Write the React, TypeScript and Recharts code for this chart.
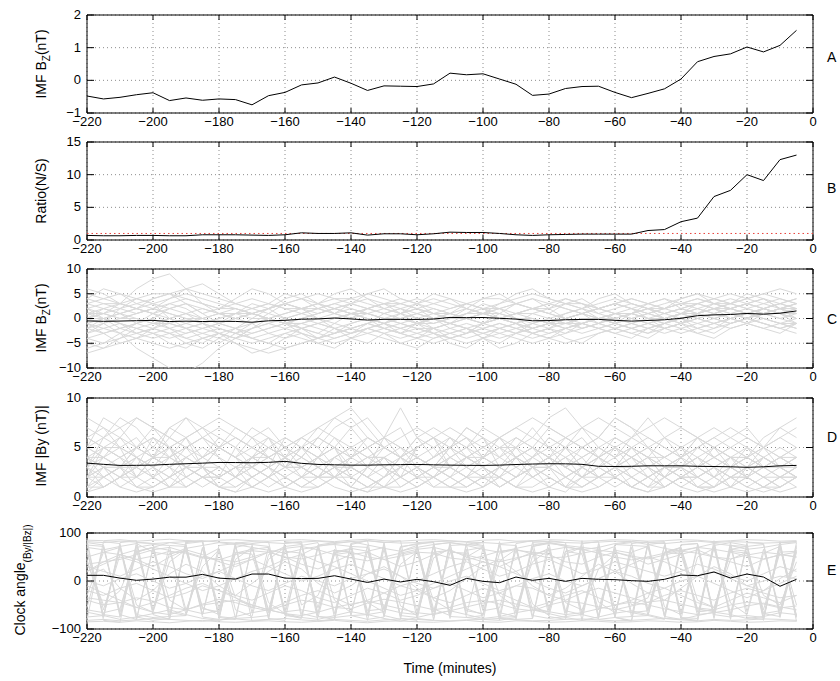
import React from 'react';
import {
  LineChart, Line, XAxis, YAxis, CartesianGrid, ReferenceArea, ReferenceLine,
} from 'recharts';

// time before onset, 5-minute steps
const minutes = [
  -220, -215, -210, -205, -200, -195, -190, -185, -180, -175, -170,
  -165, -160, -155, -150, -145, -140, -135, -130, -125, -120, -115,
  -110, -105, -100, -95, -90, -85, -80, -75, -70, -65, -60,
  -55, -50, -45, -40, -35, -30, -25, -20, -15, -10, -5,
];
const xTicks = [-220, -200, -180, -160, -140, -120, -100, -80, -60, -40, -20, 0];

// superposed-epoch mean IMF Bz (nT)
const bzMean = [
  -0.48, -0.57, -0.52, -0.44, -0.38, -0.62, -0.54, -0.61, -0.57, -0.59, -0.75,
  -0.47, -0.37, -0.14, -0.08, 0.10, -0.09, -0.31, -0.17, -0.18, -0.19, -0.11,
  0.22, 0.17, 0.20, 0.04, -0.12, -0.46, -0.42, -0.25, -0.19, -0.18, -0.37,
  -0.53, -0.40, -0.26, 0.04, 0.57, 0.73, 0.81, 1.02, 0.87, 1.07, 1.53,
];

// northward / southward event ratio
const ratioNS = [
  0.7, 0.65, 0.65, 0.7, 0.7, 0.65, 0.65, 0.8, 0.8, 0.8, 0.75,
  0.7, 0.8, 1.1, 1.0, 1.0, 1.1, 0.75, 0.95, 0.95, 0.8, 0.95,
  1.2, 1.15, 1.15, 1.0, 0.8, 0.7, 0.8, 0.85, 0.9, 0.9, 0.9,
  0.9, 1.45, 1.6, 2.8, 3.35, 6.65, 7.6, 10.0, 9.1, 12.3, 13.0,
];

// mean |By| (nT)
const byMean = [
  3.42, 3.3, 3.19, 3.2, 3.22, 3.3, 3.36, 3.42, 3.49, 3.48, 3.46,
  3.5, 3.6, 3.4, 3.29, 3.25, 3.22, 3.22, 3.25, 3.27, 3.29, 3.25,
  3.22, 3.2, 3.19, 3.22, 3.28, 3.33, 3.36, 3.35, 3.3, 3.1, 3.08,
  3.1, 3.15, 3.15, 3.15, 3.1, 3.08, 3.05, 3.0, 3.05, 3.15, 3.19,
];

// mean clock angle (deg)
const clockMean = [
  11.8, 11.8, 6, 1.4, 4, 8, 8, 13.8, 6, 4, 14.5,
  14.5, 6, 5, 5.5, 11, 4, -3, 4, -2, 3.5, -1.4,
  -9, 5.5, -0.7, -3.5, 8.3, 1.4, 5.5, -0.7, 5.5, 3.5, 2.8,
  0.7, -0.7, 3.5, 12.5, 11, 18.7, 6.2, 14.5, 8.3, -11, 3.5,
];

// individual events, IMF Bz (nT)
const bzEvents = [
  [2, 3, 2, 1, 2, 3, 4, 3, 2, 2, 1, 0, 1, 2, 3, 2, 1, 2, 3, 3, 2, 1, 2, 3, 2, 2, 3, 4, 3, 2, 1, 2, 3, 2, 1, 2, 3, 4, 3, 3, 4, 3, 2, 3],
  [-2, -3, -2, -1, -2, -3, -4, -3, -2, -3, -4, -3, -2, -1, -2, -3, -2, -1, -2, -3, -2, -2, -1, -2, -3, -4, -3, -2, -1, -2, -3, -2, -1, -2, -3, -2, -1, 0, -1, -2, -1, 0, -1, -2],
  [0, 1, 3, 6, 8, 9, 6, 3, 1, 0, -1, 0, 1, 2, 2, 1, 0, 1, 2, 1, 0, -1, 0, 1, 1, 0, -1, -2, -1, 0, 1, 0, 0, 1, 2, 1, 0, 1, 2, 3, 2, 1, 2, 1],
  [4, 3, 3, 4, 5, 5, 4, 3, 2, 3, 4, 3, 2, 2, 3, 4, 4, 3, 2, 3, 4, 3, 2, 3, 4, 4, 3, 2, 2, 3, 3, 2, 1, 1, 2, 2, 3, 3, 4, 3, 2, 3, 4, 3],
  [-5, -6, -5, -4, -5, -6, -5, -4, -3, -4, -5, -4, -3, -4, -5, -4, -3, -2, -3, -4, -3, -2, -3, -4, -3, -2, -3, -4, -3, -2, -1, -2, -3, -2, -1, -2, -3, -2, -1, 0, -1, -2, -1, -2],
  [1, 0, -1, -2, -1, 0, 1, 2, 1, 0, 1, 2, 3, 4, 3, 2, 1, 0, -1, 0, 1, 2, 1, 0, -1, 0, 1, 2, 1, 0, -1, -2, -1, 0, 1, 2, 1, 0, 1, 2, 3, 2, 1, 2],
  [-1, 0, 1, 0, -1, -2, -3, -2, -1, 0, 1, 0, -1, 0, 1, 2, 3, 2, 1, 0, -1, -2, -1, 0, 1, 2, 1, 0, -1, 0, 1, 2, 1, 0, -1, 0, 1, 2, 1, 2, 3, 2, 3, 2],
  [3, 2, 1, 2, 3, 4, 5, 4, 3, 2, 1, 2, 3, 4, 5, 4, 3, 2, 1, 2, 3, 4, 3, 2, 1, 0, 1, 2, 3, 4, 3, 2, 3, 4, 3, 2, 3, 4, 3, 2, 1, 2, 3, 4],
  [-3, -2, -1, -2, -3, -4, -3, -2, -1, -2, -3, -2, -1, 0, -1, -2, -3, -2, -1, -2, -3, -4, -3, -2, -1, 0, -1, -2, -3, -2, -1, 0, -1, -2, -1, 0, 1, 0, -1, 0, 1, 0, -1, 0],
  [0, -1, -3, -6, -8, -10, -11, -9, -6, -4, -2, -1, 0, 1, 0, -1, -2, -1, 0, -1, -2, -3, -4, -5, -4, -3, -2, -1, 0, -1, -2, -1, 0, 1, 0, -1, 0, 1, 2, 1, 0, 1, 0, -1],
  [2, 1, 0, 1, 2, 1, 0, -1, 0, 1, 2, 3, 2, 1, 2, 3, 4, 5, 4, 3, 2, 1, 0, 1, 2, 3, 4, 5, 4, 3, 2, 1, 2, 3, 2, 1, 2, 3, 4, 5, 4, 5, 6, 5],
  [-4, -3, -2, -3, -4, -3, -2, -1, -2, -3, -2, -1, -2, -3, -4, -5, -4, -3, -2, -1, -2, -3, -4, -3, -2, -1, -2, -3, -4, -5, -4, -3, -2, -1, -2, -1, 0, 1, 0, -1, 0, 1, 0, 1],
  [1, 2, 3, 2, 1, 0, -1, -2, -3, -4, -3, -2, -1, 0, 1, 2, 1, 0, -1, -2, -1, 0, 1, 2, 1, 0, 1, 2, 3, 2, 1, 0, -1, 0, 1, 0, -1, -2, -1, 0, 1, 2, 1, 0],
  [5, 4, 3, 2, 1, 2, 3, 2, 1, 0, 1, 0, -1, -2, -1, 0, 1, 2, 3, 4, 3, 2, 1, 0, -1, -2, -3, -2, -1, 0, 1, 2, 3, 2, 3, 4, 3, 2, 1, 2, 3, 4, 3, 2],
  [-2, -1, 0, 1, 2, 1, 0, -1, -2, -3, -4, -5, -6, -5, -4, -3, -2, -1, -2, -3, -4, -5, -4, -3, -2, -1, -2, -3, -2, -1, 0, -1, -2, -3, -2, -1, -2, -3, -2, -1, 0, -1, -2, -3],
  [0, 1, 2, 3, 4, 5, 6, 5, 4, 3, 2, 1, 0, 1, 2, 3, 2, 1, 0, 1, 2, 3, 4, 3, 2, 1, 0, -1, 0, 1, 2, 3, 4, 3, 2, 1, 2, 3, 2, 1, 0, 1, 2, 1],
  [-6, -5, -4, -3, -2, -1, -2, -3, -4, -5, -6, -7, -6, -5, -4, -3, -2, -3, -4, -5, -4, -3, -2, -1, -2, -3, -4, -5, -4, -3, -2, -1, 0, -1, -2, -3, -2, -1, 0, 1, 0, -1, -2, -1],
  [1, 1, 0, 0, -1, -1, 0, 0, 1, 1, 0, 0, -1, -1, 0, 0, 1, 1, 0, 0, -1, -1, 0, 0, 1, 1, 0, 0, -1, -1, 0, 0, 1, 1, 0, 0, 1, 1, 2, 2, 1, 1, 2, 2],
  [3, 4, 5, 4, 3, 2, 1, 0, -1, 0, 1, 2, 3, 2, 1, 2, 3, 4, 3, 2, 1, 0, -1, 0, 1, 2, 3, 2, 1, 0, 1, 2, 3, 2, 1, 0, 1, 2, 3, 4, 3, 2, 3, 4],
  [-1, -2, -3, -4, -3, -2, -1, 0, 1, 2, 1, 0, -1, -2, -3, -4, -3, -2, -1, 0, 1, 0, -1, -2, -3, -2, -1, 0, -1, -2, -1, 0, 1, 0, -1, -2, -1, 0, 1, 0, 1, 2, 1, 0],
  [-3, -1, 2, 4, 3, 0, -2, -4, -5, -3, -1, 1, 3, 2, 0, -2, -3, -1, 1, 2, 0, -2, -4, -3, -1, 1, 3, 4, 2, 0, -2, -1, 1, 2, 0, -1, 1, 3, 2, 0, -1, 1, 2, 0],
  [6, 5, 3, 2, 4, 5, 3, 1, 2, 4, 6, 5, 3, 2, 3, 5, 6, 4, 2, 1, 3, 5, 4, 2, 1, 3, 5, 6, 4, 3, 2, 4, 5, 3, 2, 3, 4, 5, 4, 3, 4, 5, 4, 3],
  [-7, -6, -4, -2, -3, -5, -6, -4, -3, -5, -7, -6, -4, -3, -5, -6, -4, -2, -3, -5, -6, -4, -3, -2, -4, -6, -5, -3, -2, -4, -5, -3, -2, -3, -4, -2, -1, -3, -4, -2, -1, -2, -3, -1],
  [0, 2, 1, -1, 0, 2, 3, 1, -1, -2, 0, 2, 4, 5, 3, 1, 0, 2, 3, 1, -1, 0, 1, 3, 2, 0, -1, 1, 2, 4, 3, 1, 0, 1, 3, 4, 2, 1, 2, 3, 5, 4, 2, 3],
  [-2, 0, -1, -3, -2, 0, 1, -1, -3, -4, -2, 0, -1, -3, -4, -2, -1, 0, -2, -3, -1, 0, -2, -3, -1, 0, -1, -3, -2, 0, 1, -1, -2, -1, 0, -2, -1, 1, 0, -1, 0, 2, 1, -1],
  [4, 6, 5, 3, 2, 4, 6, 7, 5, 3, 2, 3, 5, 4, 2, 1, 3, 5, 6, 4, 3, 1, 0, 2, 4, 5, 3, 2, 1, 3, 4, 2, 3, 4, 3, 2, 4, 5, 3, 2, 3, 4, 2, 3],
  [-1, -3, -5, -4, -2, -3, -5, -6, -4, -2, -1, -3, -4, -2, -1, -2, -4, -5, -3, -2, -1, -3, -5, -6, -4, -2, -1, -3, -4, -2, -1, -2, -3, -4, -2, -1, 0, -2, -3, -1, 0, -1, -2, -1],
  [2, 0, -2, -1, 1, 3, 2, 0, -1, 1, 3, 2, 0, -2, -3, -1, 1, 0, -1, 1, 2, 0, -1, 1, 3, 2, 0, -2, -1, 1, 2, 0, -1, 1, 2, 0, -1, 1, 3, 2, 1, 2, 1, 2],
  [0, 0, 1, 2, 1, -1, -2, -1, 0, 1, 1, 0, -1, -1, 0, 1, 2, 1, 0, -1, 0, 1, 1, 0, -1, 0, 1, 1, 0, -1, -1, 0, 1, 1, 0, 1, 2, 1, 0, 1, 2, 1, 1, 1],
  [-4, -5, -3, -1, 0, -2, -4, -5, -3, -2, -4, -5, -3, -2, -4, -3, -1, 0, -1, -3, -4, -2, -1, -2, -4, -5, -3, -1, -2, -3, -1, 0, -1, -2, -3, -1, 0, -1, -2, 0, 1, 0, -1, -1],
];

// individual events, |By| (nT)
const byEvents = [
  [6, 5, 4, 5, 7, 6, 5, 4, 5, 6, 5, 4, 3, 5, 6, 5, 4, 5, 6, 4, 5, 6, 5, 4, 3, 4, 6, 5, 4, 3, 5, 6, 5, 4, 3, 4, 5, 4, 3, 4, 5, 4, 3, 4],
  [2, 3, 1, 2, 4, 3, 2, 1, 2, 3, 2, 1, 2, 3, 2, 1, 0.5, 1, 2, 3, 2, 1, 2, 3, 2, 1, 2, 3, 4, 3, 2, 1, 2, 1, 2, 3, 2, 1, 2, 1, 0.5, 1, 2, 1],
  [8, 7, 5, 4, 3, 4, 6, 7, 8, 7, 6, 5, 4, 3, 4, 5, 7, 8, 6, 5, 4, 3, 4, 5, 6, 5, 4, 3, 4, 5, 7, 8, 7, 6, 5, 4, 5, 6, 7, 6, 5, 4, 3, 4],
  [3, 4, 5, 4, 3, 2, 3, 4, 5, 4, 3, 2, 3, 4, 3, 2, 3, 4, 5, 4, 3, 2, 3, 4, 3, 2, 3, 4, 5, 4, 3, 2, 3, 4, 3, 2, 3, 4, 3, 2, 3, 4, 3, 2],
  [1, 2, 1, 0.5, 1, 2, 3, 2, 1, 2, 1, 0.5, 1, 2, 1, 2, 3, 2, 1, 0.5, 1, 2, 1, 2, 3, 2, 1, 0.5, 1, 2, 1, 2, 3, 2, 1, 2, 1, 0.5, 1, 2, 3, 2, 1, 2],
  [5, 6, 7, 8, 7, 6, 5, 6, 7, 6, 5, 4, 5, 6, 7, 8, 9, 7, 5, 4, 5, 6, 7, 6, 5, 6, 7, 8, 7, 6, 5, 4, 5, 6, 7, 8, 7, 6, 5, 6, 7, 5, 4, 5],
  [4, 3, 2, 3, 4, 5, 4, 3, 2, 1, 2, 3, 4, 5, 4, 3, 2, 1, 2, 3, 4, 3, 2, 1, 2, 3, 4, 5, 4, 3, 2, 3, 4, 5, 4, 3, 2, 3, 4, 3, 2, 3, 4, 3],
  [2, 1, 2, 3, 2, 3, 4, 3, 2, 3, 4, 5, 4, 3, 2, 3, 2, 1, 2, 3, 4, 3, 4, 3, 2, 3, 4, 3, 2, 1, 2, 3, 2, 3, 2, 1, 2, 3, 2, 3, 4, 3, 2, 3],
  [7, 6, 8, 7, 5, 4, 5, 6, 5, 4, 3, 4, 5, 4, 3, 4, 5, 6, 5, 6, 7, 6, 5, 4, 5, 6, 7, 6, 5, 6, 7, 6, 8, 7, 6, 5, 4, 5, 6, 7, 6, 5, 6, 7],
  [3, 2, 3, 4, 3, 2, 1, 2, 3, 2, 3, 4, 3, 2, 3, 4, 5, 4, 3, 4, 3, 2, 3, 4, 5, 4, 3, 2, 3, 2, 3, 4, 5, 4, 3, 2, 1, 2, 3, 2, 1, 2, 3, 2],
  [5, 4, 3, 3, 4, 4, 3, 2, 2, 3, 4, 4, 3, 3, 2, 2, 3, 4, 4, 3, 2, 2, 3, 4, 4, 3, 2, 3, 3, 4, 5, 4, 3, 3, 4, 3, 3, 2, 3, 4, 4, 3, 3, 2],
  [1, 1, 2, 3, 2, 1, 1, 2, 1, 1, 2, 3, 2, 1, 1, 2, 2, 1, 1, 2, 3, 2, 1, 1, 2, 2, 1, 1, 2, 1, 1, 2, 3, 2, 1, 1, 2, 1, 1, 2, 2, 1, 1, 2],
  [4, 5, 6, 5, 4, 5, 6, 7, 6, 5, 4, 5, 6, 5, 4, 3, 4, 5, 6, 5, 4, 5, 6, 5, 4, 5, 6, 5, 4, 3, 4, 5, 4, 5, 6, 5, 4, 5, 4, 3, 4, 5, 6, 5],
  [2, 4, 3, 1, 2, 4, 5, 3, 2, 3, 1, 2, 3, 5, 4, 2, 1, 3, 4, 2, 1, 2, 4, 5, 3, 2, 1, 3, 4, 2, 3, 5, 4, 2, 1, 3, 4, 2, 3, 1, 2, 4, 3, 2],
  [6, 5, 5, 6, 4, 3, 4, 5, 4, 3, 4, 3, 4, 6, 5, 3, 4, 5, 3, 2, 3, 4, 5, 3, 4, 6, 5, 4, 3, 5, 6, 4, 3, 4, 5, 3, 4, 6, 5, 4, 3, 4, 5, 4],
  [0.5, 1, 2, 1, 0.5, 1, 3, 2, 1, 0.5, 1, 2, 1, 0.5, 1, 2, 1, 0.5, 1, 2, 3, 2, 1, 0.5, 1, 2, 1, 2, 3, 1, 0.5, 1, 2, 1, 0.5, 1, 2, 1, 0.5, 1, 2, 1, 0.5, 1],
  [3, 5, 4, 2, 3, 5, 6, 4, 3, 2, 4, 6, 5, 3, 2, 4, 5, 3, 2, 4, 6, 5, 3, 2, 4, 5, 3, 4, 6, 5, 3, 2, 3, 5, 4, 2, 3, 5, 4, 3, 2, 4, 3, 3],
  [5, 8, 7, 5, 4, 6, 8, 7, 5, 4, 6, 7, 5, 4, 6, 8, 7, 5, 6, 9, 6, 4, 5, 7, 6, 4, 5, 6, 8, 9, 7, 5, 4, 6, 8, 6, 4, 5, 6, 5, 4, 6, 7, 8],
  [2, 2, 3, 4, 2, 1, 2, 3, 3, 2, 1, 2, 4, 3, 2, 2, 3, 2, 1, 3, 4, 3, 2, 1, 2, 3, 2, 3, 4, 3, 2, 2, 3, 1, 2, 3, 3, 2, 1, 2, 3, 2, 2, 3],
  [4, 3, 4, 5, 6, 5, 3, 4, 5, 4, 5, 6, 4, 3, 4, 5, 4, 6, 5, 4, 3, 4, 5, 6, 4, 3, 4, 5, 4, 3, 4, 5, 6, 5, 4, 4, 5, 3, 4, 5, 4, 3, 4, 4],
  [3, 6, 5, 2, 4, 7, 6, 3, 2, 5, 7, 6, 3, 4, 6, 5, 2, 3, 6, 7, 4, 3, 5, 7, 6, 3, 2, 4, 6, 5, 3, 4, 6, 5, 3, 2, 4, 6, 5, 3, 4, 5, 3, 4],
  [1, 3, 2, 2, 4, 3, 1, 2, 3, 2, 4, 3, 2, 1, 2, 4, 3, 2, 3, 1, 2, 3, 2, 4, 3, 1, 2, 3, 2, 1, 3, 4, 2, 1, 2, 3, 2, 2, 1, 3, 2, 1, 2, 2],
  [5, 4, 6, 8, 7, 5, 3, 4, 6, 5, 3, 2, 4, 5, 7, 6, 4, 3, 5, 4, 2, 3, 5, 6, 4, 3, 5, 7, 5, 3, 2, 4, 5, 3, 4, 6, 5, 3, 2, 4, 3, 5, 4, 3],
  [0.5, 2, 3, 1, 1, 2, 4, 3, 1, 0.5, 2, 3, 2, 1, 2, 3, 1, 0.5, 2, 4, 3, 1, 1, 2, 1, 3, 4, 2, 1, 0.5, 2, 3, 2, 1, 0.5, 2, 3, 1, 1, 2, 1, 0.5, 1, 2],
  [4, 4, 3, 5, 6, 4, 3, 3, 5, 6, 5, 4, 3, 3, 4, 6, 5, 4, 4, 3, 5, 6, 4, 3, 4, 5, 5, 3, 4, 6, 5, 4, 3, 4, 5, 4, 3, 4, 5, 4, 4, 3, 4, 5],
  [2, 5, 4, 3, 6, 5, 2, 3, 5, 4, 2, 3, 6, 5, 3, 2, 4, 5, 3, 2, 5, 6, 3, 2, 4, 6, 4, 2, 3, 5, 4, 2, 3, 5, 4, 2, 3, 4, 2, 3, 5, 3, 2, 3],
  [6, 7, 6, 4, 5, 7, 8, 6, 5, 7, 6, 4, 5, 6, 5, 7, 8, 6, 5, 4, 6, 7, 6, 5, 7, 6, 4, 5, 7, 6, 5, 6, 8, 7, 5, 6, 7, 6, 4, 5, 6, 5, 7, 6],
  [3, 1, 2, 4, 3, 1, 2, 3, 1, 2, 4, 3, 1, 2, 3, 2, 1, 3, 4, 2, 1, 2, 3, 2, 1, 2, 4, 3, 1, 2, 3, 2, 1, 2, 3, 1, 2, 3, 2, 1, 3, 2, 1, 2],
  [4, 2, 3, 5, 4, 3, 5, 6, 4, 2, 3, 5, 4, 2, 4, 5, 3, 2, 4, 5, 3, 4, 6, 4, 3, 2, 4, 5, 3, 4, 2, 3, 5, 4, 2, 3, 4, 3, 5, 4, 2, 3, 4, 3],
  [2, 3, 3, 2, 1, 2, 3, 2, 2, 3, 3, 2, 1, 2, 2, 3, 3, 2, 1, 1, 2, 3, 3, 2, 2, 1, 2, 3, 3, 2, 1, 2, 2, 3, 2, 1, 2, 2, 3, 2, 2, 1, 2, 2],
];

// individual events, clock angle (deg)
const clockEvents = [
  [80, 75, -70, -80, 70, 80, 75, -75, -80, 70, 78, 82, -70, -78, 75, 80, -72, -80, -75, 70, 78, 80, -70, 75, 80, -78, -80, 72, 80, 75, -70, -78, 76, 80, -72, -80, 75, 78, -70, -75, 80, 78, -76, 80],
  [70, 65, 72, 78, 60, 55, 68, 74, 80, 76, 70, 64, 58, 66, 72, 78, 82, 75, 68, 62, 70, 76, 80, 74, 66, 60, 68, 75, 80, 72, 65, 70, 78, 82, 76, 68, 62, 70, 78, 74, 66, 70, 76, 80],
  [-65, -72, -80, -75, -68, -60, -70, -78, -82, -74, -66, -60, -68, -76, -80, -72, -64, -70, -78, -84, -76, -68, -62, -70, -78, -74, -66, -60, -68, -76, -82, -75, -67, -62, -70, -78, -80, -72, -65, -70, -78, -74, -66, -70],
  [20, 35, 50, 40, 25, 10, -5, -20, -10, 5, 20, 30, 45, 55, 40, 30, 15, 0, -15, -30, -20, -5, 10, 25, 40, 30, 15, 0, -15, -25, -10, 5, 20, 35, 50, 40, 25, 10, -5, -20, -35, -20, -5, 10],
  [-80, 82, 78, -75, -82, -78, 80, 84, -76, -80, 74, -78, 80, 82, -74, -80, 76, 84, 80, -78, -82, 76, 80, -76, -80, -82, 78, 84, -74, -80, 78, 82, -76, -82, 76, 80, -78, -84, 74, 80, -76, -80, 80, 82],
  [50, 60, 55, 45, 52, 62, 58, 48, 44, 55, 63, 60, 50, 46, 54, 64, 60, 50, 45, 52, 60, 58, 48, 44, 52, 62, 66, 56, 48, 50, 58, 64, 60, 52, 46, 54, 62, 58, 50, 46, 54, 60, 56, 50],
  [-40, -50, -45, -35, -42, -55, -60, -48, -38, -45, -55, -62, -50, -40, -45, -55, -58, -46, -38, -44, -52, -60, -55, -45, -40, -48, -58, -62, -50, -42, -46, -54, -60, -52, -44, -40, -48, -56, -60, -50, -44, -48, -56, -52],
  [85, -82, -86, 80, 78, -80, 84, 82, -78, 76, -84, -80, 82, 78, -84, -80, 76, -82, 80, 84, -78, -82, 80, 76, -84, 82, -80, -78, 84, 80, -82, 78, -76, -84, 80, 82, -78, -82, 84, -80, 78, -76, 82, -84],
  [30, 20, 10, 25, 40, 30, 15, 5, 20, 35, 45, 30, 15, 0, 10, 25, 35, 20, 5, -10, 0, 15, 30, 40, 25, 10, 20, 35, 45, 30, 15, 25, 40, 30, 20, 10, 20, 35, 25, 10, 0, 15, 30, 20],
  [-20, -30, -15, -5, -20, -35, -25, -10, -20, -30, -40, -25, -10, -20, -35, -45, -30, -15, -25, -40, -30, -15, -5, -20, -35, -25, -10, -15, -30, -40, -25, -15, -25, -35, -45, -30, -20, -30, -40, -25, -15, -25, -35, -30],
  [75, 72, -74, 70, 76, 74, 72, -70, 74, 78, 76, 72, -72, -76, 74, 76, 72, 70, -74, 72, 76, -72, 74, 76, 72, -76, -74, 72, 78, 74, 70, -72, 76, 74, 72, -74, 76, 78, -70, 74, 72, 76, -72, 74],
  [-75, -72, 74, -70, -76, -74, -72, 70, -74, -78, -76, -72, 72, 76, -74, -76, -72, -70, 74, -72, -76, 72, -74, -76, -72, 76, 74, -72, -78, -74, -70, 72, -76, -74, -72, 74, -76, -78, 70, -74, -72, -76, 72, -74],
  [60, -60, 55, 65, -62, 58, 62, -58, -64, 60, 56, -60, 62, 58, -56, 64, 60, -62, -58, 56, 62, -64, 60, 58, -62, -56, 64, 60, -58, 62, 56, -60, 64, 58, -62, 60, 56, -58, -64, 62, 58, -60, 60, 62],
  [0, -10, 5, 15, 0, -15, -5, 10, 20, 5, -10, -20, -5, 10, 0, -10, 5, 15, 25, 10, -5, -15, 0, 10, -5, -20, -10, 5, 15, 0, -10, 5, 20, 10, -5, -15, 0, 10, 20, 5, -10, 0, 10, 5],
  [85, 84, 86, 83, 85, 87, 84, 82, 85, 86, 84, 83, 85, 86, 84, 82, 85, 87, 84, 83, 85, 86, 84, 82, 85, 86, 83, 84, 86, 85, 83, 84, 86, 85, 83, 84, 86, 85, 82, 84, 86, 85, 83, 84],
  [-85, -84, -86, -83, -85, -87, -84, -82, -85, -86, -84, -83, -85, -86, -84, -82, -85, -87, -84, -83, -85, -86, -84, -82, -85, -86, -83, -84, -86, -85, -83, -84, -86, -85, -83, -84, -86, -85, -82, -84, -86, -85, -83, -84],
  [45, -70, -75, 60, 70, -65, -72, 50, 68, -60, -74, 55, 72, -68, -76, 58, 66, -70, -64, 62, 74, -58, -72, 64, 70, -66, -74, 52, 68, -62, -70, 60, 72, -66, -72, 58, 70, -64, -60, 66, 72, -68, -74, 60],
  [-30, 60, 70, -50, -65, 40, 65, -55, -70, 45, 70, -45, -68, 55, 72, -40, -66, 62, 70, -52, -72, 48, 68, -58, -70, 42, 66, -48, -72, 56, 70, -44, -66, 60, 72, -54, -70, 50, 68, -46, -70, 58, 72, -50],
  [35, 40, 45, 55, 65, 70, 60, 50, 45, 40, 50, 60, 68, 72, 65, 55, 48, 42, 50, 58, 66, 70, 62, 54, 46, 40, 48, 56, 64, 70, 66, 58, 50, 44, 50, 58, 64, 70, 66, 60, 52, 46, 54, 60],
  [-35, -40, -45, -55, -65, -70, -60, -50, -45, -40, -50, -60, -68, -72, -65, -55, -48, -42, -50, -58, -66, -70, -62, -54, -46, -40, -48, -56, -64, -70, -66, -58, -50, -44, -50, -58, -64, -70, -66, -60, -52, -46, -54, -60],
  [78, -76, 80, 84, -70, -80, 78, 82, -74, 80, 76, -78, -82, 74, 80, -76, 78, 84, -72, -80, 76, 82, -78, 80, 74, -82, -76, 80, 78, -74, 84, -80, -76, 78, 82, -74, -80, 76, -78, 80, 74, -82, 78, -76],
  [10, 25, -15, -40, -20, 15, 35, 20, -10, -30, -5, 20, 40, 25, -5, -25, -10, 15, 30, 10, -15, -35, -20, 5, 30, 45, 20, -10, -30, -15, 10, 35, 20, -5, -25, -40, -15, 10, 30, 15, -10, -20, 5, 25],
  [-60, -66, -58, 62, 70, 64, -60, -68, -62, 58, 66, 70, -64, -60, -66, 60, 68, 62, -58, -66, -70, 60, 64, -62, -68, 58, 66, -60, -64, 62, 70, 66, -58, -66, -62, 60, 68, -64, -60, 66, 62, -68, -62, 64],
  [40, -50, -20, 60, 70, -40, -60, 30, 65, -35, -55, 45, 70, -50, -30, 55, 60, -45, -65, 35, 60, -40, -60, 50, 70, -30, -55, 40, 65, -45, -60, 25, 55, -50, -35, 60, 70, -40, -55, 45, 60, -30, -50, 40],
  [82, 80, 83, 81, 78, 80, 82, 84, 81, 79, 82, 80, 78, 81, 83, 80, 82, 84, 81, 79, 80, 82, 83, 81, 80, 78, 81, 83, 82, 80, 79, 81, 83, 82, 80, 78, 81, 83, 80, 82, 81, 79, 80, 82],
  [-82, -80, -83, -81, -78, -80, -82, -84, -81, -79, -82, -80, -78, -81, -83, -80, -82, -84, -81, -79, -80, -82, -83, -81, -80, -78, -81, -83, -82, -80, -79, -81, -83, -82, -80, -78, -81, -83, -80, -82, -81, -79, -80, -82],
  [65, -75, 70, -80, 68, -72, 76, -70, 64, -78, 72, -66, 74, -76, 70, -68, 78, -72, 66, -74, 70, -80, 76, -70, 68, -72, 74, -78, 70, -66, 72, -76, 68, -74, 78, -70, 66, -72, 76, -68, 74, -78, 70, -72],
  [-10, -25, -40, -55, -45, -30, -15, -5, -20, -35, -50, -60, -45, -30, -20, -35, -50, -40, -25, -10, -20, -35, -45, -30, -15, -25, -40, -55, -45, -30, -20, -35, -50, -40, -25, -15, -30, -45, -55, -40, -25, -35, -45, -30],
  [20, 40, 55, 45, 30, 50, 65, 55, 40, 30, 45, 60, 50, 35, 25, 40, 55, 60, 45, 30, 40, 55, 65, 50, 40, 30, 45, 60, 55, 40, 35, 50, 60, 50, 35, 45, 55, 65, 50, 40, 30, 45, 55, 50],
  [-55, 70, -65, 75, -60, 72, -70, 68, -58, 74, -66, 70, -62, 76, -68, 66, -72, 74, -60, 70, -64, 72, -70, 66, -58, 74, -66, 70, -62, 76, -68, 64, -72, 70, -60, 74, -66, 68, -70, 72, -64, 66, -62, 70],
];

const buildRows = (mean: number[], events: number[][] = []) =>
  minutes.map((t, i) => {
    const row: Record<string, number> = { t, v: mean[i] };
    events.forEach((ev, k) => { row['g' + k] = ev[i]; });
    return row;
  });

const FONT = '"Liberation Sans", Arial, Helvetica, sans-serif';
const PLOT_LEFT = 87;
const PLOT_RIGHT = 27;
const PLOT_W = 840 - PLOT_LEFT - PLOT_RIGHT;

const fmt = (v: number) => (v < 0 ? '\u2212' + Math.abs(v) : String(v));

// MATLAB-style inward ticks on both sides of the box
const XTick = (props: any) => {
  const { x, y, payload, span } = props;
  return (
    <g>
      <line x1={x} x2={x} y1={y} y2={y - 5} stroke="#000" />
      <line x1={x} x2={x} y1={y - span} y2={y - span + 5} stroke="#000" />
      <text x={x} y={y + 13} textAnchor="middle" fontSize={13} fontFamily={FONT} fill="#000">
        {fmt(payload.value)}
      </text>
    </g>
  );
};

const YTick = (props: any) => {
  const { x, y, payload } = props;
  return (
    <g>
      <line x1={x} x2={x + 7} y1={y} y2={y} stroke="#000" />
      <line x1={x + PLOT_W} x2={x + PLOT_W - 7} y1={y} y2={y} stroke="#000" />
      <text x={x - 6} y={y} dy="0.3em" textAnchor="end" fontSize={13} fontFamily={FONT} fill="#000">
        {fmt(payload.value)}
      </text>
    </g>
  );
};

interface PanelProps {
  rows: Record<string, number>[];
  top: number;
  bottom: number;
  domain: [number, number];
  yTicks: number[];
  traces?: number;
  refLevel?: number;
}

const Panel = ({ rows, top, bottom, domain, yTicks, traces = 0, refLevel }: PanelProps) => {
  const span = bottom - top;
  const keys = Array.from({ length: traces }, (_, k) => 'g' + k);
  return (
    <div style={{ position: 'absolute', left: 0, top: 0 }}>
      <LineChart
        width={840}
        height={681}
        data={rows}
        margin={{ top, right: PLOT_RIGHT, bottom: 681 - bottom - 1, left: PLOT_LEFT - 1 }}
      >
        <CartesianGrid stroke="#8c8c8c" strokeDasharray="1 3" />
        <XAxis
          dataKey="t" type="number" domain={[-220, 0]} ticks={xTicks} interval={0}
          height={1} tickSize={0} tickMargin={0} axisLine={false} tickLine={false}
          tick={(p: any) => <XTick {...p} span={span} />}
        />
        <YAxis
          type="number" domain={domain} ticks={yTicks} interval={0} allowDataOverflow
          width={1} tickSize={0} tickMargin={0} axisLine={false} tickLine={false}
          tick={(p: any) => <YTick {...p} />}
        />
        {keys.map((k) => (
          <Line key={k} dataKey={k} stroke="#d9d9d9" strokeWidth={1} dot={false} isAnimationActive={false} />
        ))}
        {refLevel !== undefined && (
          <ReferenceLine y={refLevel} stroke="#e8413c" strokeDasharray="1.5 3" />
        )}
        <Line dataKey="v" stroke="#000" strokeWidth={1} dot={false} isAnimationActive={false} />
        <ReferenceArea x1={-220} x2={0} y1={domain[0]} y2={domain[1]} fill="none" stroke="#000" strokeOpacity={1} />
      </LineChart>
    </div>
  );
};

const letters = [
  { t: 'A', y: 62 },
  { t: 'B', y: 193 },
  { t: 'C', y: 324 },
  { t: 'D', y: 442 },
  { t: 'E', y: 575 },
];

export default function App() {
  return (
    <div style={{ position: 'absolute', left: 0, top: 0, width: 840, height: 681, background: '#fff', fontFamily: FONT }}>
      <Panel rows={buildRows(bzMean)} top={15} bottom={113} domain={[-1, 2]} yTicks={[-1, 0, 1, 2]} />
      <Panel rows={buildRows(ratioNS)} top={142} bottom={240} domain={[0, 15]} yTicks={[0, 5, 10, 15]} refLevel={1} />
      <Panel rows={buildRows(bzMean, bzEvents)} top={269} bottom={368} domain={[-10, 10]} yTicks={[-10, -5, 0, 5, 10]} traces={bzEvents.length} />
      <Panel rows={buildRows(byMean, byEvents)} top={398} bottom={497} domain={[0, 10]} yTicks={[0, 5, 10]} traces={byEvents.length} />
      <Panel rows={buildRows(clockMean, clockEvents)} top={533} bottom={629} domain={[-100, 100]} yTicks={[-100, 0, 100]} traces={clockEvents.length} />

      <svg width={840} height={681} style={{ position: 'absolute', left: 0, top: 0, pointerEvents: 'none' }}>
        <g fontFamily={FONT} fontSize={14} fill="#000">
          <text transform="rotate(-90 46 64)" x={46} y={64} textAnchor="middle">
            IMF B<tspan dy={4} fontSize={10}>Z</tspan><tspan dy={-4}>(nT)</tspan>
          </text>
          <text transform="rotate(-90 46 191)" x={46} y={191} textAnchor="middle">Ratio(N/S)</text>
          <text transform="rotate(-90 46 318)" x={46} y={318} textAnchor="middle">
            IMF B<tspan dy={4} fontSize={10}>Z</tspan><tspan dy={-4}>(nT)</tspan>
          </text>
          <text transform="rotate(-90 46 446)" x={46} y={446} textAnchor="middle">IMF |By (nT)|</text>
          <text transform="rotate(-90 25 580)" x={25} y={580} textAnchor="middle">
            Clock angle<tspan dy={6} fontSize={10}>(By/|Bz|)</tspan>
          </text>
          {letters.map((l) => (
            <text key={l.t} x={827} y={l.y}>{l.t}</text>
          ))}
          <text x={450} y={673} textAnchor="middle">Time (minutes)</text>
        </g>
      </svg>
    </div>
  );
}
